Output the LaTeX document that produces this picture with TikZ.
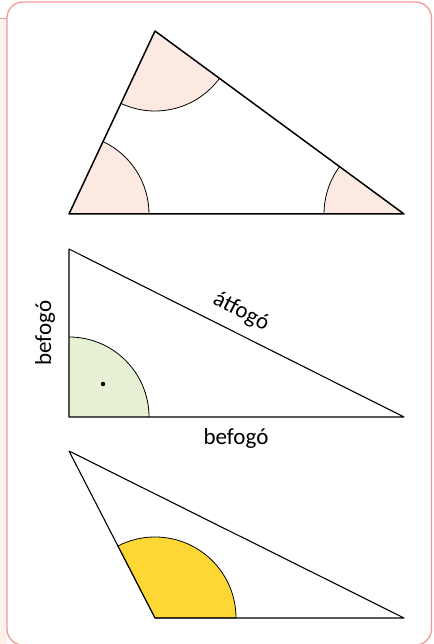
\documentclass[tikz,border=0pt]{standalone}
\usepackage{fontspec}
\setmainfont{Carlito}
\definecolor{framered}{HTML}{EF9A9A}
\definecolor{stripfill}{HTML}{FDF1EC}
\definecolor{anglepink}{HTML}{FCEAE2}
\definecolor{anglegreen}{HTML}{E6F0D3}
\definecolor{angleyellow}{HTML}{FDD835}

\begin{document}
\begin{tikzpicture}[x=1pt,y=1pt,every node/.style={font=\fontsize{23}{27}\selectfont}]
  \useasboundingbox (0,0) rectangle (433,644);

  % Card frame
  \fill[stripfill] (0,-2) rectangle (7,625);
  \draw[framered, line width=1pt] (0,625) -- (7,625);
  \draw[framered, line width=1.3pt, rounded corners=16pt] (7,-1) rectangle (431.5,642);

  \begin{scope}
    % Triangle with three angles
    \coordinate (A) at (69,430);
    \coordinate (B) at (404,430);
    \coordinate (C) at (155,613);

    \fill[anglepink] (A) -- ++(0:80) arc[start angle=0, end angle=64.83, radius=80] -- cycle;
    \fill[anglepink] (B) -- ++(143.69:80) arc[start angle=143.69, end angle=180, radius=80] -- cycle;
    \fill[anglepink] (C) -- ++(244.83:80) arc[start angle=244.83, end angle=323.69, radius=80] -- cycle;
    \draw[line width=0.8pt] (A) ++(0:80) arc[start angle=0, end angle=64.83, radius=80];
    \draw[line width=0.8pt] (B) ++(143.69:80) arc[start angle=143.69, end angle=180, radius=80];
    \draw[line width=0.8pt] (C) ++(244.83:80) arc[start angle=244.83, end angle=323.69, radius=80];

    \draw[line width=1.5pt, line join=round] (A) -- (B) -- (C) -- cycle;
  \end{scope}

  \begin{scope}
    % Right triangle
    \coordinate (R) at (69,227);
    \coordinate (T) at (69,395);
    \coordinate (Q) at (404,227);

    \fill[anglegreen] (R) -- ++(0:80) arc[start angle=0, end angle=90, radius=80] -- cycle;
    \draw[line width=0.8pt] (R) ++(0:80) arc[start angle=0, end angle=90, radius=80];
    \fill (103,260) circle (2.2);

    \draw[line width=1.1pt, line join=round] (R) -- (Q) -- (T) -- cycle;

    % Labels
    \node[rotate=-26.7] (hyp) at (241,332) {átfogó};
    \node (legA) at (236,206) {befogó};
    \node[rotate=90] (legB) at (45,311) {befogó};
  \end{scope}

  \begin{scope}
    % Obtuse triangle
    \coordinate (O) at (155,26);
    \coordinate (S) at (404,26);
    \coordinate (P) at (69,193);

    \filldraw[fill=angleyellow, draw=black, line width=0.8pt]
      (O) -- ++(0:81) arc[start angle=0, end angle=117.25, radius=81] -- cycle;

    \draw[line width=1.1pt, line join=round] (O) -- (S) -- (P) -- cycle;
  \end{scope}
\end{tikzpicture}
\end{document}
